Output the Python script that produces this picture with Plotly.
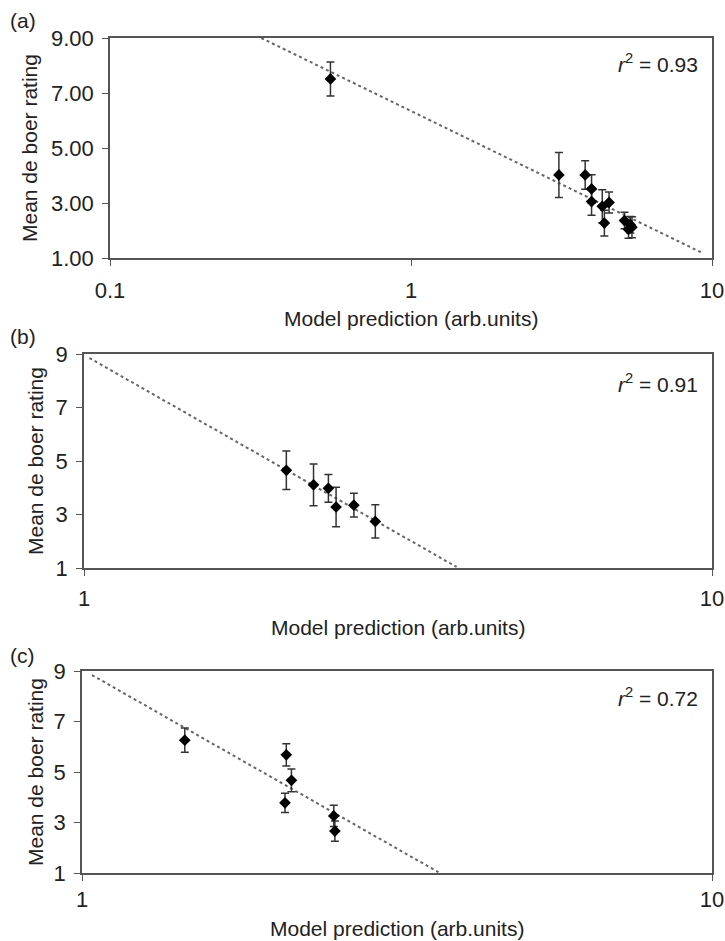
import plotly.graph_objects as go

W, H = 725, 941

# ---- data ----
a_x = [0.54, 3.10, 3.79, 3.98, 3.98, 4.32, 4.39, 4.55, 5.12, 5.28, 5.35, 5.42]
a_y = [7.51, 4.02, 4.02, 3.51, 3.05, 2.88, 2.27, 3.02, 2.36, 2.04, 2.21, 2.12]
a_err = [0.62, 0.82, 0.52, 0.52, 0.50, 0.60, 0.47, 0.38, 0.30, 0.32, 0.30, 0.38]
a_fit_x = [0.318, 9.3]
a_fit_y = [9.0, 1.18]

b_x = [2.10, 2.32, 2.45, 2.52, 2.69, 2.91]
b_y = [4.65, 4.11, 3.98, 3.28, 3.35, 2.74]
b_err = [0.72, 0.78, 0.52, 0.74, 0.44, 0.62]
b_fit_x = [1.02, 3.92]
b_fit_y = [8.85, 1.04]

c_x = [1.456, 2.11, 2.15, 2.10, 2.51, 2.52]
c_y = [6.26, 5.68, 4.67, 3.78, 3.26, 2.66]
c_err = [0.48, 0.44, 0.45, 0.38, 0.42, 0.40]
c_fit_x = [1.037, 3.68]
c_fit_y = [8.84, 1.03]

panel_labels = ["(a)", "(b)", "(c)"]
r2_labels = ["0.93", "0.91", "0.72"]
x_title = "Model prediction (arb.units)"
y_title = "Mean de boer rating"
a_xticks = [0.1, 1, 10]
a_xticktext = ["0.1", "1", "10"]
bc_xticks = [1, 10]
bc_xticktext = ["1", "10"]
yticks = [1, 3, 5, 7, 9]

FONT = "Liberation Sans, Arial, Helvetica, sans-serif"
FS = 21
TFS = 22
AX = "#555555"

# ---- layout geometry (pixels) ----
panels = [
    dict(left=110, top=38, bottom=258, xr=[-1, 1], xt=a_xticks, xtt=a_xticktext,
         ytt=[f"{v:.2f}" for v in yticks], lab_y=20, xtitle_y=318, ytitle_x=30, r2_y=63, xso=6),
    dict(left=84, top=354, bottom=568, xr=[0, 1], xt=bc_xticks, xtt=bc_xticktext,
         ytt=[str(v) for v in yticks], lab_y=337, xtitle_y=627, ytitle_x=35, r2_y=383, xso=4),
    dict(left=82, top=671, bottom=873, xr=[0, 1], xt=bc_xticks, xtt=bc_xticktext,
         ytt=[str(v) for v in yticks], lab_y=655, xtitle_y=928, ytitle_x=35, r2_y=697, xso=0),
]
RIGHT = 712

data_sets = [(a_x, a_y, a_err, a_fit_x, a_fit_y),
             (b_x, b_y, b_err, b_fit_x, b_fit_y),
             (c_x, c_y, c_err, c_fit_x, c_fit_y)]

fig = go.Figure()
layout = {}
annotations = []
for i, (p, ds) in enumerate(zip(panels, data_sets)):
    n = "" if i == 0 else str(i + 1)
    xs, ys, es, fx, fy = ds
    fig.add_trace(go.Scatter(x=fx, y=fy, mode="lines",
                             line=dict(color="#666666", width=2, dash="dot"),
                             xaxis="x" + n, yaxis="y" + n, showlegend=False, hoverinfo="skip"))
    fig.add_trace(go.Scatter(x=xs, y=ys, mode="markers",
                             marker=dict(symbol="diamond", size=9, color="black"),
                             error_y=dict(type="data", array=es, visible=True,
                                          color="#333333", thickness=1.5, width=4),
                             xaxis="x" + n, yaxis="y" + n, showlegend=False))
    xdom = [p["left"] / W, RIGHT / W]
    ydom = [1 - p["bottom"] / H, 1 - p["top"] / H]
    layout["xaxis" + n] = dict(
        type="log", range=p["xr"], domain=xdom, anchor="y" + n,
        tickvals=p["xt"], ticktext=p["xtt"], ticks="outside", ticklen=6,
        tickcolor=AX, showline=True, linecolor=AX, linewidth=1.5, mirror=True,
        showgrid=False, zeroline=False, automargin=False, ticklabeloverflow="allow",
        tickfont=dict(family=FONT, size=TFS, color="#222222"), ticklabelstandoff=p["xso"])
    layout["yaxis" + n] = dict(
        range=[1, 9], domain=ydom, anchor="x" + n,
        tickvals=yticks, ticktext=p["ytt"], ticks="outside", ticklen=6,
        tickcolor=AX, showline=True, linecolor=AX, linewidth=1.5, mirror=True,
        showgrid=False, zeroline=False, automargin=False,
        tickfont=dict(family=FONT, size=TFS, color="#222222"), ticklabelstandoff=4)
    annotations.append(dict(text=panel_labels[i], x=8 / W, y=1 - p["lab_y"] / H,
                            xref="paper", yref="paper", xanchor="left", yanchor="middle",
                            showarrow=False, font=dict(family=FONT, size=FS, color="#222222")))
    annotations.append(dict(text=x_title, x=(p["left"] + RIGHT) / 2 / W, y=1 - p["xtitle_y"] / H,
                            xref="paper", yref="paper", xanchor="center", yanchor="middle",
                            showarrow=False, font=dict(family=FONT, size=FS, color="#222222")))
    annotations.append(dict(text=y_title, x=p["ytitle_x"] / W, y=1 - (p["top"] + p["bottom"]) / 2 / H,
                            xref="paper", yref="paper", xanchor="center", yanchor="middle",
                            textangle=-90, showarrow=False,
                            font=dict(family=FONT, size=FS, color="#222222")))
    annotations.append(dict(text="<i>r</i><sup>2</sup> = " + r2_labels[i], x=700 / W, y=1 - p["r2_y"] / H,
                            xref="paper", yref="paper", xanchor="right", yanchor="middle",
                            showarrow=False, font=dict(family=FONT, size=FS, color="#222222")))

fig.update_layout(
    width=W, height=H, margin=dict(l=0, r=0, t=0, b=0),
    paper_bgcolor="white", plot_bgcolor="white",
    annotations=annotations, showlegend=False, **layout)

fig.write_html("out.html", config={"displayModeBar": False},
               post_script="document.body.style.margin='0';document.body.style.overflow='hidden';")
